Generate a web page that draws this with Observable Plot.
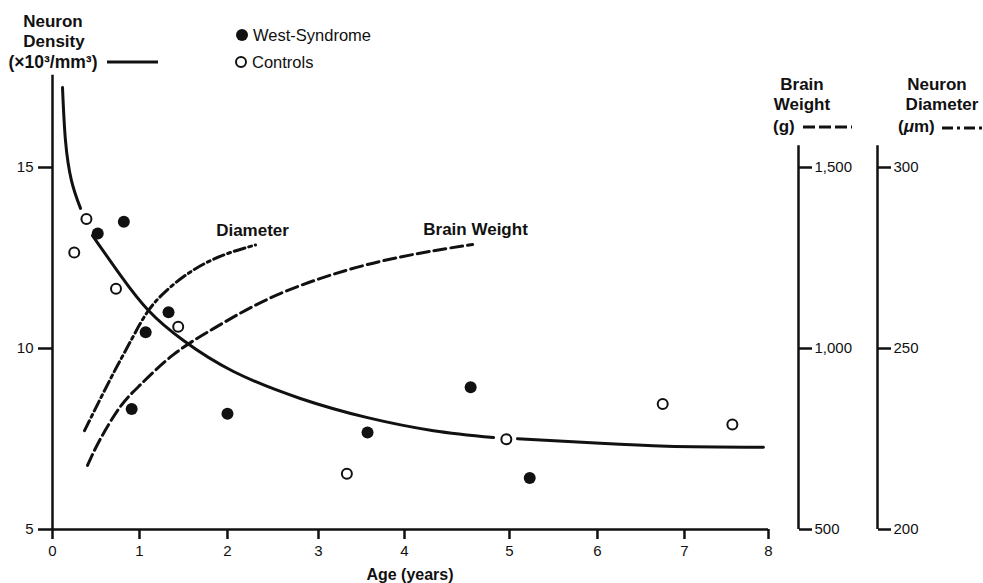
<!DOCTYPE html>
<html>
<head>
<meta charset="utf-8">
<script src="https://cdn.jsdelivr.net/npm/d3@7"></script>
<script src="https://cdn.jsdelivr.net/npm/@observablehq/plot@0.6"></script>
<style>
  body { margin: 0; background: #fff; }
  #wrap { position: relative; width: 983px; height: 583px; background: #fff; }
  #wrap svg { font-family: "Liberation Sans", Arial, Helvetica, sans-serif; }
</style>
</head>
<body>
<div id="wrap"></div>
<script>
// ---------- data ----------
const ageTicks = [0, 1, 2, 3, 4, 5, 6, 7, 8];
const densityTicks = [5, 10, 15];
const weightTicks = [500, 1000, 1500];
const diameterTicks = [200, 250, 300];

// West-Syndrome (filled dots): age in years, neuron density ×10³/mm³
const westAge     = [0.52, 0.82, 0.91, 1.07, 1.33, 2.00, 3.57, 4.63, 5.23];
const westDensity = [13.18, 13.50, 8.33, 10.45, 11.00, 8.20, 7.68, 8.93, 6.42];

// Controls (open dots)
const controlAge     = [0.25, 0.39, 0.73, 1.44, 3.33, 4.97, 6.75, 7.57];
const controlDensity = [12.65, 13.58, 11.65, 10.60, 6.54, 7.49, 8.47, 7.90];

// Neuron density curve (solid); NaN marks the gaps drawn around open circles
const densityCurveAge   = [0.115, 0.149, 0.218, 0.322, 0.39, 0.46, 0.782, 1.102, 1.50, 2.066, 2.80, 3.57, 4.276, 4.848, 4.97, 5.091, 6.034, 6.80, 7.94];
const densityCurveValue = [17.21, 15.75, 14.64, 13.87, NaN, 13.12, 12.02, 11.05, 10.22, 9.365, 8.62, 8.09, 7.73, 7.54, NaN, 7.51, 7.38, 7.30, 7.27];

// Brain weight curve (dashed), grams
const weightCurveAge   = [0.402, 0.552, 0.782, 1.011, 1.386, 1.841, 2.286, 2.802, 3.57, 4.276, 4.648];
const weightCurveValue = [677, 751, 840, 900, 983, 1055, 1117, 1174, 1232, 1270, 1287];

// Neuron diameter curve (dash-dot), µm
const diameterCurveAge   = [0.368, 0.552, 0.736, 0.92, 1.102, 1.307, 1.534, 1.784, 2.055, 2.308];
const diameterCurveValue = [227.3, 236.2, 244.8, 253.0, 260.5, 266.0, 270.4, 274.0, 276.7, 278.6];

const legendLabels = ["West-Syndrome", "Controls"];
const curveLabels = ["Diameter", "Brain Weight"];

// the printed age axis is slightly uneven; this warp reproduces its tick spacing
const ageAxisWarp = d3.scaleLinear().domain(ageTicks).range([0, 0.972, 1.955, 2.972, 3.933, 5.106, 6.089, 7.061, 8]);

// right-hand axes share the left axis positions: 500 g ↔ 5, 1,500 g ↔ 15; 200 µm ↔ 5, 300 µm ↔ 15
const weightToDensity = w => 5 + (w - 500) / 100;
const diameterToDensity = d => 5 + (d - 200) / 10;
const densityToWeight = v => 500 + (v - 5) * 100;
const densityToDiameter = v => 200 + (v - 5) * 10;

const westRows = westAge.map((a, i) => ({age: a, density: westDensity[i]}));
const controlRows = controlAge.map((a, i) => ({age: a, density: controlDensity[i]}));
const densityRows = densityCurveAge.map((a, i) => ({age: a, density: densityCurveValue[i]}));
const weightRows = weightCurveAge.map((a, i) => ({age: a, weight: weightCurveValue[i]}));
const diameterRows = diameterCurveAge.map((a, i) => ({age: a, diameter: diameterCurveValue[i]}));

// axis extents: the left axis runs above 15, the right axes a little above their top tick
const leftAxisTop = 17.55;
const rightAxisTop = 15.6;

const ink = "#111";
const fmt = d3.format(",");

const chart = Plot.plot({
  width: 983,
  height: 583,
  marginLeft: 52,
  marginRight: 215,
  marginTop: 167,
  marginBottom: 54,
  style: {background: "white", color: ink, fontSize: "15px", fontFamily: "Liberation Sans, Arial, sans-serif", overflow: "visible"},
  x: {domain: [0, 8], transform: ageAxisWarp},
  y: {domain: [5, 15]},
  marks: [
    // axis lines
    Plot.ruleX([{x: 0, y1: 5, y2: leftAxisTop}], {x: "x", y1: "y1", y2: "y2", stroke: ink, strokeWidth: 2.5}),
    Plot.ruleY([{y: 5, x1: 0, x2: 8}], {y: "y", x1: "x1", x2: "x2", stroke: ink, strokeWidth: 2.5}),
    Plot.ruleX([{x: 8, y1: 5, y2: rightAxisTop}], {x: "x", y1: "y1", y2: "y2", dx: 30, stroke: ink, strokeWidth: 2.5}),
    Plot.ruleX([{x: 8, y1: 5, y2: rightAxisTop}], {x: "x", y1: "y1", y2: "y2", dx: 109, stroke: ink, strokeWidth: 2.5}),
    // axes
    Plot.axisY(densityTicks, {anchor: "left", tickSize: 14, tickPadding: 5, strokeWidth: 2.5, fontSize: 15, label: null}),
    Plot.axisX(ageTicks, {anchor: "bottom", tickSize: 10, tickPadding: 6, strokeWidth: 2.5, fontSize: 15, label: null}),
    Plot.axisY(weightTicks.map(weightToDensity), {anchor: "right", tickSize: 13, tickPadding: 3, dx: 30, strokeWidth: 2.5, fontSize: 15, label: null, tickFormat: v => fmt(Math.round(densityToWeight(v)))}),
    Plot.axisY(diameterTicks.map(diameterToDensity), {anchor: "right", tickSize: 13, tickPadding: 3, dx: 109, strokeWidth: 2.5, fontSize: 15, label: null, tickFormat: v => fmt(Math.round(densityToDiameter(v)))}),
    // curves
    Plot.line(weightRows, {x: "age", y: d => weightToDensity(d.weight), curve: "natural", stroke: ink, strokeWidth: 3, strokeDasharray: "12,5"}),
    Plot.line(diameterRows, {x: "age", y: d => diameterToDensity(d.diameter), curve: "natural", stroke: ink, strokeWidth: 3, strokeDasharray: "11,4,3,4"}),
    Plot.line(densityRows, {x: "age", y: "density", curve: "natural", stroke: ink, strokeWidth: 3}),
    // curve labels at the curve ends
    Plot.text([diameterRows[diameterRows.length - 1]], {x: "age", y: d => diameterToDensity(d.diameter), text: () => curveLabels[0], dx: -3, dy: -9, lineAnchor: "bottom", fontWeight: "bold", fontSize: 17, fill: ink}),
    Plot.text([weightRows[weightRows.length - 1]], {x: "age", y: d => weightToDensity(d.weight), text: () => curveLabels[1], dx: 3, dy: -10, lineAnchor: "bottom", fontWeight: "bold", fontSize: 17, fill: ink}),
    // points
    Plot.dot(westRows, {x: "age", y: "density", r: 6, fill: ink, stroke: "none"}),
    Plot.dot(controlRows, {x: "age", y: "density", r: 5, fill: "white", stroke: ink, strokeWidth: 2})
  ]
});

const wrap = document.getElementById("wrap");
wrap.appendChild(chart);

// ---------- titles and legend (overlay) ----------
const ov = d3.select(wrap).append("svg")
  .attr("width", 983).attr("height", 583)
  .style("position", "absolute").style("left", "0px").style("top", "0px")
  .style("pointer-events", "none");

function label(txt, x, y, opts = {}) {
  const t = ov.append("text")
    .attr("x", x).attr("y", y)
    .attr("dominant-baseline", "central")
    .attr("text-anchor", opts.anchor || "middle")
    .attr("font-size", opts.size || 17)
    .attr("font-weight", opts.weight || "bold")
    .attr("fill", ink);
  if (Array.isArray(txt)) {
    txt.forEach(p => t.append("tspan").attr("font-style", p.italic ? "italic" : null).text(p.t));
  } else t.text(txt);
  return t;
}
function sample(x1, x2, y, dash) {
  ov.append("line").attr("x1", x1).attr("x2", x2).attr("y1", y).attr("y2", y)
    .attr("stroke", ink).attr("stroke-width", 3).attr("stroke-dasharray", dash || null);
}

// Neuron Density
label("Neuron", 53, 21);
label("Density", 54, 41);
label("(×10³/mm³)", 53, 62, {size: 17.5});
sample(107, 158, 62);

// Brain Weight
label("Brain", 802, 84);
label("Weight", 802, 104);
label("(g)", 773, 126, {anchor: "start"});
sample(803, 852, 127, "12,4");

// Neuron Diameter
label("Neuron", 937, 84);
label("Diameter", 942, 104);
label([{t: "("}, {t: "μ", italic: true}, {t: "m)"}], 898, 126, {anchor: "start"});
sample(942, 983, 128, "11,4,3,4");

// legend
ov.append("circle").attr("cx", 242).attr("cy", 35).attr("r", 6).attr("fill", ink);
label(legendLabels[0], 253, 35, {anchor: "start", size: 16.5, weight: "normal"});
ov.append("circle").attr("cx", 241).attr("cy", 62).attr("r", 5).attr("fill", "white").attr("stroke", ink).attr("stroke-width", 2);
label(legendLabels[1], 252, 62, {anchor: "start", size: 16.5, weight: "normal"});

// x-axis title
label("Age (years)", 410, 574, {size: 16});
</script>
</body>
</html>
